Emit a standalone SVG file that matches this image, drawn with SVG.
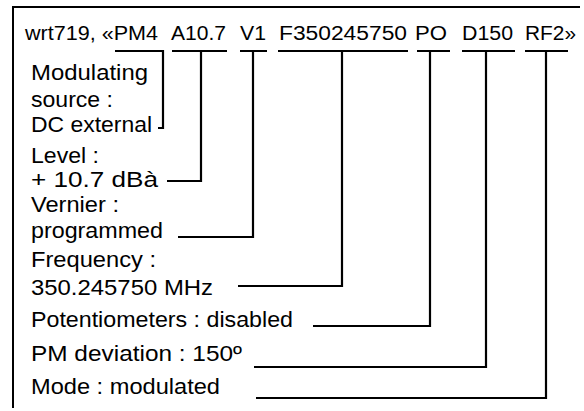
<svg xmlns="http://www.w3.org/2000/svg" width="584" height="411" viewBox="0 0 584 411">
<style>
text { font-family: "Liberation Sans", Arial, Helvetica, sans-serif; fill: #000; }
.h { font-size: 20.5px; }
.t { font-size: 22.5px; }
.ln { fill: none; stroke: #000; stroke-width: 2.2; stroke-linejoin: miter; stroke-linecap: butt; }
.fr { fill: none; stroke: #000; stroke-width: 2; }
</style>
<rect width="584" height="411" fill="#fff"/>
<g id="frame">
<path class="fr" d="M13,408 V7 H580"/>
</g>
<g id="header">
<text class="h" x="25" y="40" textLength="133" lengthAdjust="spacingAndGlyphs">wrt719, «PM4</text>
<text class="h" x="171" y="40" textLength="55" lengthAdjust="spacingAndGlyphs">A10.7</text>
<text class="h" x="240" y="40" textLength="26" lengthAdjust="spacingAndGlyphs">V1</text>
<text class="h" x="279" y="40" textLength="128" lengthAdjust="spacingAndGlyphs">F350245750</text>
<text class="h" x="415" y="40" textLength="32" lengthAdjust="spacingAndGlyphs">PO</text>
<text class="h" x="462" y="40" textLength="51" lengthAdjust="spacingAndGlyphs">D150</text>
<text class="h" x="525" y="40" textLength="51" lengthAdjust="spacingAndGlyphs">RF2»</text>
</g>
<g id="node-modulating">
<text class="t" x="31" y="80" textLength="117" lengthAdjust="spacingAndGlyphs">Modulating</text>
<text class="t" x="31" y="107" textLength="82" lengthAdjust="spacingAndGlyphs">source :</text>
<text class="t" x="31" y="132" textLength="121" lengthAdjust="spacingAndGlyphs">DC external</text>
</g>
<g id="node-level">
<text class="t" x="31" y="163" textLength="68" lengthAdjust="spacingAndGlyphs">Level :</text>
<text class="t" x="31" y="187" textLength="127" lengthAdjust="spacingAndGlyphs">+ 10.7 dBà</text>
</g>
<g id="node-vernier">
<text class="t" x="31" y="212" textLength="88" lengthAdjust="spacingAndGlyphs">Vernier :</text>
<text class="t" x="31" y="238" textLength="132" lengthAdjust="spacingAndGlyphs">programmed</text>
</g>
<g id="node-frequency">
<text class="t" x="31" y="267" textLength="125" lengthAdjust="spacingAndGlyphs">Frequency :</text>
<text class="t" x="31" y="295" textLength="182" lengthAdjust="spacingAndGlyphs">350.245750 MHz</text>
</g>
<g id="node-potentiometers">
<text class="t" x="31" y="327" textLength="262" lengthAdjust="spacingAndGlyphs">Potentiometers : disabled</text>
</g>
<g id="node-deviation">
<text class="t" x="31" y="361" textLength="211" lengthAdjust="spacingAndGlyphs">PM deviation : 150º</text>
</g>
<g id="node-mode">
<text class="t" x="31" y="394" textLength="189" lengthAdjust="spacingAndGlyphs">Mode : modulated</text>
</g>
<g id="connectors">
<path class="ln" d="M115,51 H163 V128 H158"/>
<path class="ln" d="M172,51 H227 M201,51 V181 H167"/>
<path class="ln" d="M240,51 H267 M253,51 V237 H178"/>
<path class="ln" d="M278,51 H408 M342,51 V286 H238"/>
<path class="ln" d="M417,51 H450 M430,51 V326 H313"/>
<path class="ln" d="M462,51 H515 M486,51 V367 H254"/>
<path class="ln" d="M525,51 H568 M546,51 V398 H256"/>
</g>
</svg>
